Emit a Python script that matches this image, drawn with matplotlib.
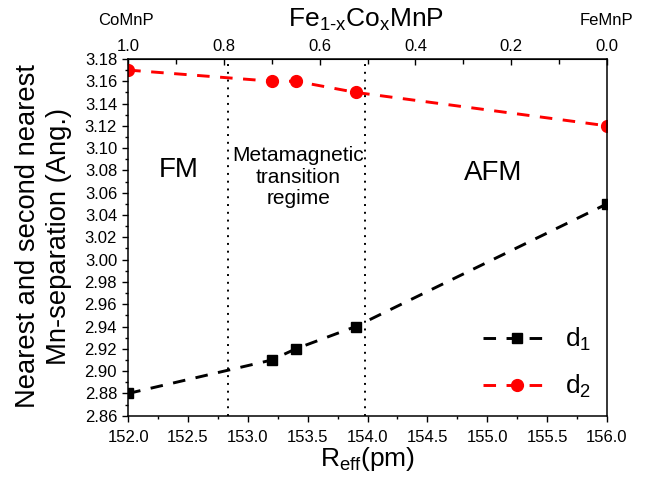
import numpy as np
import matplotlib
matplotlib.use('Agg')
import matplotlib.pyplot as plt
from matplotlib.ticker import MultipleLocator, FormatStrFormatter

plt.rcParams['font.family'] = ['Liberation Sans', 'DejaVu Sans']
plt.rcParams['mathtext.default'] = 'regular'

# data
r_eff = [152.0, 153.2, 153.4, 153.9, 156.0]
d1 = [2.88, 2.91, 2.92, 2.94, 3.05]
d2 = [3.17, 3.16, 3.16, 3.15, 3.12]
boundaries = [152.83, 153.98]
top_ticks = [1.0, 0.8, 0.6, 0.4, 0.2, 0.0]


def r_to_x(r):
    return (156.0 - r) / 4.0


def x_to_r(x):
    return 156.0 - 4.0 * x


fig = plt.figure(figsize=(6.54, 4.79), dpi=100)
ax = fig.add_axes([0.196, 0.132, 0.732, 0.745])

dash = (0, (4.3, 3.6))
ax.plot(r_eff, d1, color='black', ls=dash, lw=2.1,
        marker='s', ms=6.5, label='d$_1$')
ax.plot(r_eff, d2, color='red', ls=dash, lw=2.1,
        marker='o', ms=8.5, label='d$_2$')

for b in boundaries:
    ax.axvline(b, color='black', ls=(0, (1, 3)), lw=1.4)

ax.set_xlim(152.0, 156.0)
ax.set_ylim(2.86, 3.18)
ax.xaxis.set_major_locator(MultipleLocator(0.5))
ax.xaxis.set_minor_locator(MultipleLocator(0.25))
ax.yaxis.set_major_locator(MultipleLocator(0.02))
ax.yaxis.set_minor_locator(MultipleLocator(0.01))
ax.xaxis.set_major_formatter(FormatStrFormatter('%.1f'))
ax.yaxis.set_major_formatter(FormatStrFormatter('%.2f'))
ax.tick_params(which='both', direction='out', labelsize=12, width=1)
ax.tick_params(which='major', length=4.5)
ax.tick_params(which='minor', length=2.5)
ax.tick_params(axis='x', pad=5.5)
for s in ax.spines.values():
    s.set_linewidth(1.1)

ax.set_xlabel('R$_{eff}$(pm)', fontsize=19, labelpad=0)
fig.text(0.066, 0.507, 'Nearest and second nearest\nMn-separation (Ang.)',
         fontsize=19.7, rotation=90, ha='center', va='center',
         linespacing=1.25)

top = ax.secondary_xaxis('top', functions=(r_to_x, x_to_r))
top.set_xticks(top_ticks)
top.xaxis.set_minor_locator(MultipleLocator(0.1))
top.xaxis.set_major_formatter(FormatStrFormatter('%.1f'))
top.tick_params(which='both', direction='in', labelsize=12, pad=3.5,
                width=1)
top.tick_params(which='major', length=4)
top.tick_params(which='minor', length=3.5)

fig.text(0.56, 0.958, 'Fe$_{1\u2010x}$Co$_x$MnP', fontsize=19,
         ha='center', va='center')
fig.text(0.192, 0.957, 'CoMnP', fontsize=12, ha='center', va='center')
fig.text(0.928, 0.957, 'FeMnP', fontsize=12, ha='center', va='center')

ax.text(152.42, 3.08, 'FM', fontsize=20, ha='center', va='center')
ax.text(153.42, 3.074, 'Metamagnetic\ntransition\nregime', fontsize=15,
        ha='center', va='center', linespacing=1.15)
ax.text(155.05, 3.078, 'AFM', fontsize=20, ha='center', va='center')

ax.legend(loc='lower right', frameon=False, fontsize=19, handlelength=2.6,
          handletextpad=0.5, labelspacing=0.75, borderaxespad=0.3,
          borderpad=0.3)

fig.savefig('out.png', dpi=100)
